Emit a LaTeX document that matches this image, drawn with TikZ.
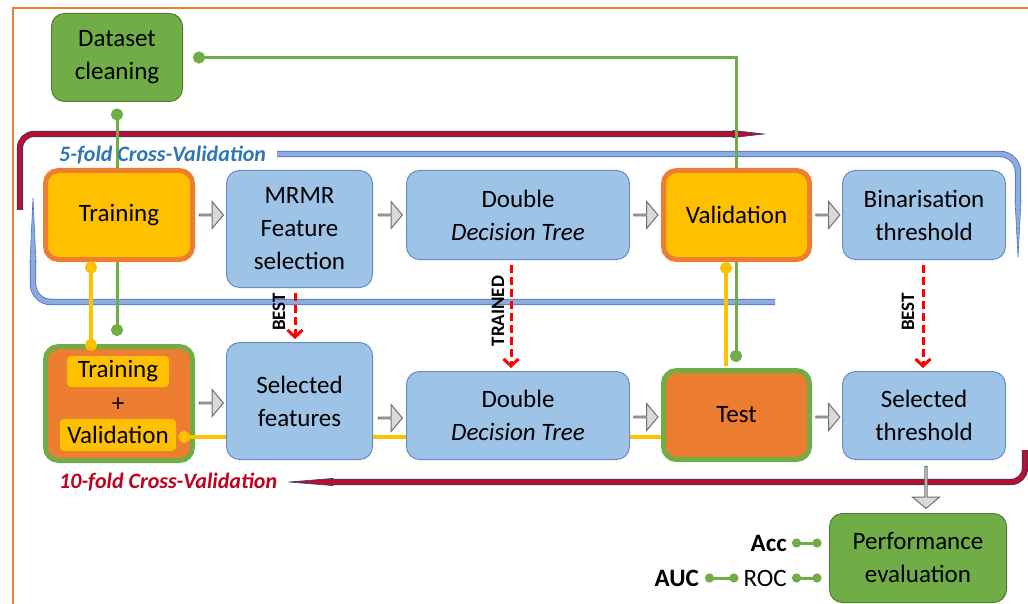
\documentclass[tikz,border=0pt]{standalone}
\usepackage{fontspec}
\setmainfont{Carlito}
\usetikzlibrary{shapes.arrows,arrows.meta,calc,backgrounds}
\definecolor{bfill}{HTML}{9DC3E6}
\definecolor{bdraw}{HTML}{6A8CC4}
\definecolor{gfill}{HTML}{70AD47}
\definecolor{gdraw}{HTML}{507E32}
\definecolor{yfill}{HTML}{FFC000}
\definecolor{ofill}{HTML}{ED7D31}
\definecolor{redin}{HTML}{B8102E}
\definecolor{redout}{HTML}{2E3A70}
\definecolor{bluein}{HTML}{8FAADC}
\definecolor{blueout}{HTML}{4472C4}
\definecolor{tblue}{HTML}{2E75B6}
\definecolor{tred}{HTML}{C0001E}
\definecolor{arfill}{HTML}{D9D9D9}
\definecolor{ardraw}{HTML}{6F6F6F}
\definecolor{dashred}{HTML}{FF0000}
\newcommand\mainfs{\fontsize{25}{33}\selectfont}
\begin{document}
\begin{tikzpicture}[x=1pt,y=-1pt,
  box/.style={rounded corners=13pt, align=center, inner sep=0pt, font=\mainfs, text=black},
  bbox/.style={box, fill=bfill, draw=bdraw, line width=1pt},
  gbox/.style={box, fill=gfill, draw=gdraw, line width=1pt},
  ybox/.style={box, fill=yfill, draw=ofill, line width=5pt},
  obox/.style={box, fill=ofill, draw=gfill, line width=5pt},
  inbox/.style={box, fill=yfill, rounded corners=4pt},
  garrow/.style={single arrow, fill=arfill, draw=ardraw, line width=1pt,
    minimum height=24pt, minimum width=27pt, single arrow head extend=7pt,
    single arrow tip angle=100, inner sep=0pt},
  redloop/.style={draw=redout, line width=0.7pt, double=redin, double distance=4.8pt, rounded corners=14pt},
  blueloop/.style={draw=blueout, line width=0.8pt, double=bluein, double distance=4.8pt, rounded corners=18pt},
  gline/.style={draw=gfill, line width=3pt},
  yline/.style={draw=yfill, line width=3.5pt},
  gsmall/.style={draw=gfill, line width=3pt, {Circle[length=9pt,width=9pt]}-{Circle[length=9pt,width=9pt]}},
  rdash/.style={draw=dashred, line width=3pt, dash pattern=on 8pt off 4pt,
    -{Straight Barb[length=7pt, width=15pt, line width=3pt]}},
  rot/.style={rotate=90, font=\bfseries\fontsize{19}{21}\selectfont, inner sep=0pt},
  lbl/.style={inner sep=0pt, font=\mainfs},
  cvtext/.style={anchor=west, inner sep=0pt, font=\bfseries\itshape\fontsize{22}{24}\selectfont}
]
\useasboundingbox (0,0) rectangle (1028,604);
% frame
\draw[draw=ofill, line width=1.5pt] (13,604) -- (13,8) -- (1028,8);

% nodes, first part
\node[gbox, minimum width=131pt, minimum height=88pt] (ds) at (117,57.5) {Dataset\\cleaning};
\node[ybox, minimum width=147pt, minimum height=89pt] (tr) at (119,215) {Training};
\node[bbox, minimum width=146pt, minimum height=117pt] (mrmr) at (299.5,229) {MRMR\\Feature\\selection};
\node[bbox, minimum width=223pt, minimum height=89pt] (ddt1) at (518,215) {Double\\\textit{Decision Tree}};
\node[ybox, minimum width=146pt, minimum height=89pt] (val) at (736.5,215) {Validation};
\node[bbox, minimum width=163pt, minimum height=89pt] (bin) at (924,215) {Binarisation\\threshold};
\node[obox, minimum width=147pt, minimum height=114pt] (tv) at (119,403.5) {};
\node[inbox, minimum width=102pt, minimum height=31pt] (tvtr) at (118,371.5) {Training};
\node[lbl] (plus) at (118,405) {+};
\node[inbox, minimum width=116pt, minimum height=32pt] (tvval) at (118,435) {Validation};

\coordinate (yend) at (662,437);
\draw[yline, {Circle[length=12pt,width=12pt]}-] ($(tvval.east)+(2,2)$) -- (yend);

\node[bbox, minimum width=146pt, minimum height=117pt] (sf) at (299.5,401) {Selected\\features};
\node[bbox, minimum width=223pt, minimum height=88pt] (ddt2) at (518,415.5) {Double\\\textit{Decision Tree}};
\node[obox, minimum width=146pt, minimum height=89pt] (test) at (736.5,415) {Test};
\node[bbox, minimum width=163pt, minimum height=88pt] (st) at (924,415.5) {Selected\\threshold};
\node[gbox, minimum width=177pt, minimum height=89pt] (pe) at (918,558) {Performance\\evaluation};

% block arrows
\node[garrow] (a1) at (211,215) {};
\node[garrow] (a2) at (390,215) {};
\node[garrow] (a3) at (645.5,215) {};
\node[garrow] (a4) at (827.5,215) {};
\node[garrow] (a5) at (211,403) {};
\node[garrow] (a6) at (390,418) {};
\node[garrow] (a7) at (645.5,417) {};
\node[garrow] (a8) at (827.5,417) {};
\node[garrow, shape border rotate=270, minimum height=42pt, single arrow head extend=6pt] (a9) at (926,487) {};

% cross validation labels
\node[cvtext, text=tblue] (cv5) at (59,155) {5-fold Cross-Validation};
\node[cvtext, text=tred] (cv10) at (59,482) {10-fold Cross-Validation};

% background: loops and hidden connectors
\begin{scope}[on background layer]
  % red 10-fold loop
  \fill[redin, draw=redout, line width=0.6pt] (733,130.4) -- (764,134) -- (733,137.6) -- cycle;
  \draw[redloop] (20,210) -- (20,134) -- (734,134);
  \fill[redin, draw=redout, line width=0.6pt] (333,478.4) -- (289,482) -- (333,485.6) -- cycle;
  \draw[redloop] (331,482) -- (1025,482) -- (1025,450);
  % blue 5-fold loop
  \fill[bluein, draw=blueout, line width=0.6pt] (1015,200) -- (1018,257) -- (1021,200) -- cycle;
  \draw[blueloop] (277,154) -- (1018,154) -- (1018,202);
  \fill[bluein, draw=blueout, line width=0.6pt] (30,262) -- (33,198) -- (36,262) -- cycle;
  \draw[blueloop] (33,260) -- (33,302) -- (775,302);
  % green connectors
  \draw[gline, {Circle[length=12pt,width=12pt]}-{Circle[length=12pt,width=12pt]}] ($(ds.east)+(10,0)$) -| ($(test.north)+(-0.5,-6)$);
  \draw[gline, {Circle[length=12pt,width=12pt]}-{Circle[length=12pt,width=12pt]}] ($(ds.south)+(0,6.5)$) -- ($(tv.north -| ds.south)+(0,-8)$);
\end{scope}

% yellow connectors on top
\draw[yline, {Circle[length=12pt,width=12pt]}-{Circle[length=12pt,width=12pt]}] ($(tr.south)+(-28,-0.5)$) -- ($(tv.north)+(-28,7)$);
\draw[yline, {Circle[length=12pt,width=12pt]}-] ($(val.south)+(-10.5,0)$) -- ($(test.north)+(-10.5,-2.5)$);

% red dashed arrows
\draw[rdash] ($(mrmr.south)+(-4.5,5)$) -- ($(sf.north)+(-4.5,-3)$);
\draw[rdash] ($(ddt1.south)+(-7,5)$) -- ($(ddt2.north)+(-7,-3)$);
\draw[rdash] ($(bin.south)+(-1,5)$) -- ($(st.north)+(-1,-3)$);
\node[rot] (best1) at (279,312) {BEST};
\node[rot] (trained) at (498,311) {TRAINED};
\node[rot] (best2) at (908,312) {BEST};

% performance metrics
\node[lbl, anchor=east] (acc) at (787,543) {\textbf{Acc}};
\node[lbl, anchor=east] (roc) at (787,578) {ROC};
\node[lbl, anchor=east] (auc) at (699,578) {\textbf{AUC}};
\draw[gsmall] ($(acc.east)+(5,0)$) -- ($(pe.west |- acc.east)+(-7.5,0)$);
\draw[gsmall] ($(roc.east)+(5,0)$) -- ($(pe.west |- roc.east)+(-7.5,0)$);
\draw[gsmall] ($(auc.east)+(6,0)$) -- ($(roc.west)+(-5,0)$);
\end{tikzpicture}
\end{document}
